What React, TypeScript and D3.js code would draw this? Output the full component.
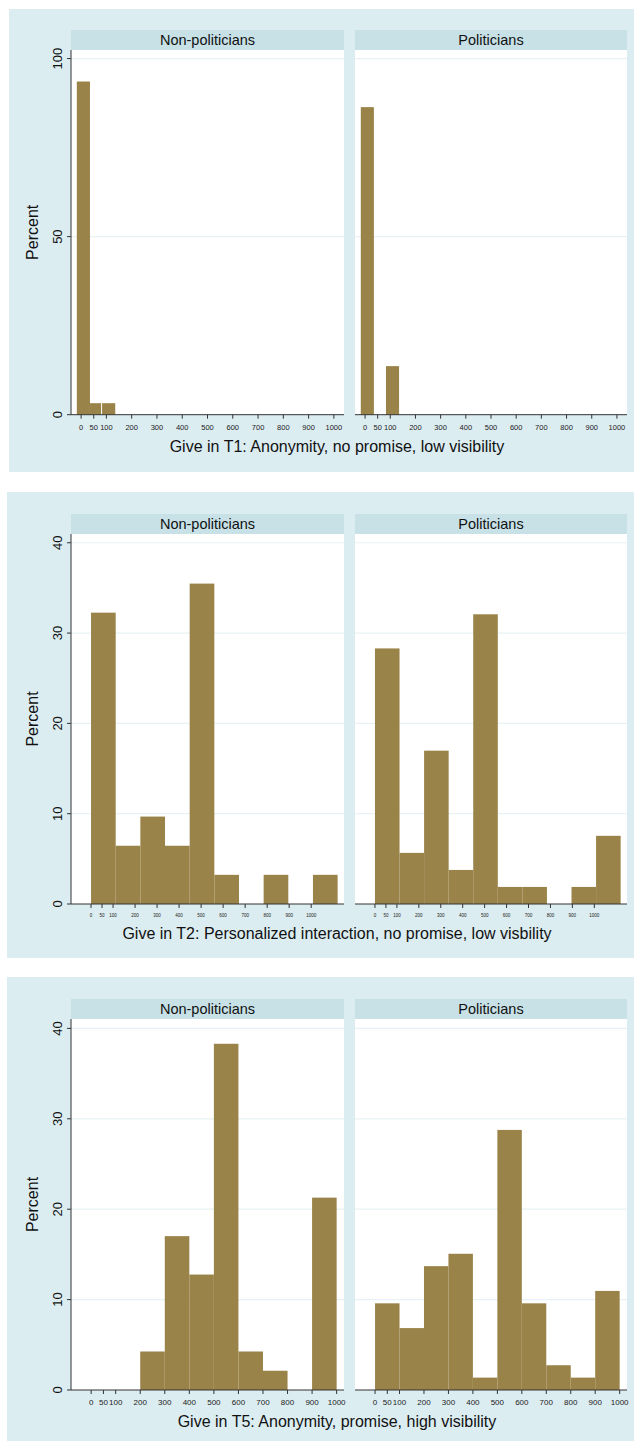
import React from "react";
import * as d3 from "d3";

// ---------- data ----------
const groups = ["Non-politicians", "Politicians"];
const xTicks = [0, 50, 100, 200, 300, 400, 500, 600, 700, 800, 900, 1000];

const t1Titles = "Give in T1: Anonymity, no promise, low visibility";
const t2Titles = "Give in T2: Personalized interaction, no promise, low visbility";
const t5Titles = "Give in T5: Anonymity, promise, high visibility";

// T1 bars: [start, end, percent]
const t1NonPolStart = [-17, 35, 83];
const t1NonPolEnd = [35, 79, 135];
const t1NonPolPct = [93.55, 3.23, 3.23];
const t1PolStart = [-17, 83];
const t1PolEnd = [35, 135];
const t1PolPct = [86.36, 13.64];

// T2 bins
const t2BinStart = [0, 112, 224, 336, 448, 560, 672, 784, 896, 1008];
const t2BinEnd = [112, 224, 336, 448, 560, 672, 784, 896, 1008, 1120];
const t2NonPolPct = [32.26, 6.45, 9.68, 6.45, 35.48, 3.23, 0, 3.23, 0, 3.23];
const t2PolPct = [28.3, 5.66, 16.98, 3.77, 32.08, 1.89, 1.89, 0, 1.89, 7.55];

// T5 bins
const t5BinStart = [0, 100, 200, 300, 400, 500, 600, 700, 800, 900];
const t5BinEnd = [100, 200, 300, 400, 500, 600, 700, 800, 900, 1000];
const t5NonPolPct = [0, 0, 4.26, 17.02, 12.77, 38.3, 4.26, 2.13, 0, 21.28];
const t5PolPct = [9.59, 6.85, 13.7, 15.07, 1.37, 28.77, 9.59, 2.74, 1.37, 10.96];

const yTicksT1 = [0, 50, 100];
const yTicksT2 = [0, 10, 20, 30, 40];
const yTicksT5 = [0, 10, 20, 30, 40];

// ---------- style ----------
const BG = "#dcedf1";
const STRIP = "#c7e1e7";
const BAR = "#9a8348";
const GRID = "#e8f2f4";
const AXIS = "#333";
const FONT = "'Liberation Sans', Arial, Helvetica, sans-serif";

type Bar = { x0: number; x1: number; v: number };

function mk(s: number[], e: number[], v: number[]): Bar[] {
  return v.map((val, i) => ({ x0: s[i], x1: e[i], v: val }));
}

type PanelCfg = {
  bgX: number;
  bgY: number;
  bgW: number;
  bgH: number;
  stripY: number;
  plotTop: number;
  plotBottom: number;
  yMax: number;
  xDomain: [number, number];
  yTicks: number[];
  tickFont: number;
  tickLabelDy: number;
  title: string;
  titleDy: number;
  titleFont: number;
  bars: Bar[][];
};

const facetX: [number, number][] = [
  [71, 344],
  [355, 627],
];

function Panel({ cfg }: { cfg: PanelCfg }) {
  const y = d3.scaleLinear().domain([0, cfg.yMax]).range([cfg.plotBottom, cfg.plotTop]);
  return (
    <g>
      <rect x={cfg.bgX} y={cfg.bgY} width={cfg.bgW} height={cfg.bgH} fill={BG} />
      {groups.map((g, gi) => {
        const [px0, px1] = facetX[gi];
        const x = d3.scaleLinear().domain(cfg.xDomain).range([px0, px1]);
        return (
          <g key={g}>
            <rect x={px0} y={cfg.stripY} width={px1 - px0} height={cfg.plotTop - cfg.stripY} fill={STRIP} />
            <text
              x={(px0 + px1) / 2}
              y={(cfg.stripY + cfg.plotTop) / 2}
              textAnchor="middle"
              dominantBaseline="central"
              fontFamily={FONT}
              fontSize={14.5}
              fill="#111"
            >
              {g}
            </text>
            <rect x={px0} y={cfg.plotTop} width={px1 - px0} height={cfg.plotBottom - cfg.plotTop} fill="#fff" />
            {cfg.yTicks
              .filter((t) => t > 0)
              .map((t) => (
                <line key={t} x1={px0} x2={px1} y1={y(t)} y2={y(t)} stroke={GRID} strokeWidth={1.2} />
              ))}
            {cfg.bars[gi]
              .filter((b) => b.v > 0)
              .map((b, i) => (
                <rect
                  key={i}
                  x={x(b.x0)}
                  y={y(b.v)}
                  width={x(b.x1) - x(b.x0)}
                  height={y(0) - y(b.v)}
                  fill={BAR}
                />
              ))}
            <line x1={px0} x2={px1} y1={cfg.plotBottom} y2={cfg.plotBottom} stroke={AXIS} strokeWidth={1} />
            {xTicks.map((t) => (
              <g key={t}>
                <line x1={x(t)} x2={x(t)} y1={cfg.plotBottom} y2={cfg.plotBottom + 4} stroke={AXIS} strokeWidth={1} />
                <text
                  x={x(t)}
                  y={cfg.plotBottom + cfg.tickLabelDy}
                  textAnchor="middle"
                  dominantBaseline="central"
                  fontFamily={FONT}
                  fontSize={cfg.tickFont}
                  fill="#222"
                >
                  {t}
                </text>
              </g>
            ))}
            {gi === 0 && (
              <g>
                <line x1={px0} x2={px0} y1={cfg.plotTop} y2={cfg.plotBottom} stroke={AXIS} strokeWidth={1} />
                {cfg.yTicks.map((t) => (
                  <g key={t}>
                    <line x1={px0 - 4} x2={px0} y1={y(t)} y2={y(t)} stroke={AXIS} strokeWidth={1} />
                    <text
                      transform={`translate(${px0 - 14},${y(t)}) rotate(-90)`}
                      textAnchor="middle"
                      dominantBaseline="central"
                      fontFamily={FONT}
                      fontSize={13}
                      fill="#111"
                    >
                      {t}
                    </text>
                  </g>
                ))}
              </g>
            )}
          </g>
        );
      })}
      <text
        transform={`translate(32,${(cfg.plotTop + cfg.plotBottom) / 2}) rotate(-90)`}
        textAnchor="middle"
        dominantBaseline="central"
        fontFamily={FONT}
        fontSize={16}
        fill="#111"
      >
        Percent
      </text>
      <text
        x={337}
        y={cfg.plotBottom + cfg.titleDy}
        textAnchor="middle"
        dominantBaseline="central"
        fontFamily={FONT}
        fontSize={cfg.titleFont}
        fill="#111"
      >
        {cfg.title}
      </text>
    </g>
  );
}

const panels: PanelCfg[] = [
  {
    bgX: 9,
    bgY: 9,
    bgW: 625,
    bgH: 463,
    stripY: 30,
    plotTop: 50,
    plotBottom: 414.7,
    yMax: 102.4,
    xDomain: [-40, 1040],
    yTicks: yTicksT1,
    tickFont: 7.5,
    tickLabelDy: 13,
    title: t1Titles,
    titleDy: 32,
    titleFont: 16,
    bars: [mk(t1NonPolStart, t1NonPolEnd, t1NonPolPct), mk(t1PolStart, t1PolEnd, t1PolPct)],
  },
  {
    bgX: 7,
    bgY: 492,
    bgW: 627,
    bgH: 466,
    stripY: 514,
    plotTop: 534,
    plotBottom: 904,
    yMax: 40.97,
    xDomain: [-91, 1149],
    yTicks: yTicksT2,
    tickFont: 4.5,
    tickLabelDy: 11.7,
    title: t2Titles,
    titleDy: 29,
    titleFont: 16,
    bars: [mk(t2BinStart, t2BinEnd, t2NonPolPct), mk(t2BinStart, t2BinEnd, t2PolPct)],
  },
  {
    bgX: 7,
    bgY: 977,
    bgW: 627,
    bgH: 464,
    stripY: 999,
    plotTop: 1019,
    plotBottom: 1390,
    yMax: 41.04,
    xDomain: [-82, 1030],
    yTicks: yTicksT5,
    tickFont: 8,
    tickLabelDy: 12.7,
    title: t5Titles,
    titleDy: 31.7,
    titleFont: 16,
    bars: [mk(t5BinStart, t5BinEnd, t5NonPolPct), mk(t5BinStart, t5BinEnd, t5PolPct)],
  },
];

export default function App() {
  return (
    <svg
      width={643}
      height={1445}
      style={{ position: "absolute", left: 0, top: 0, background: "#fff" }}
    >
      {panels.map((p, i) => (
        <Panel key={i} cfg={p} />
      ))}
    </svg>
  );
}
